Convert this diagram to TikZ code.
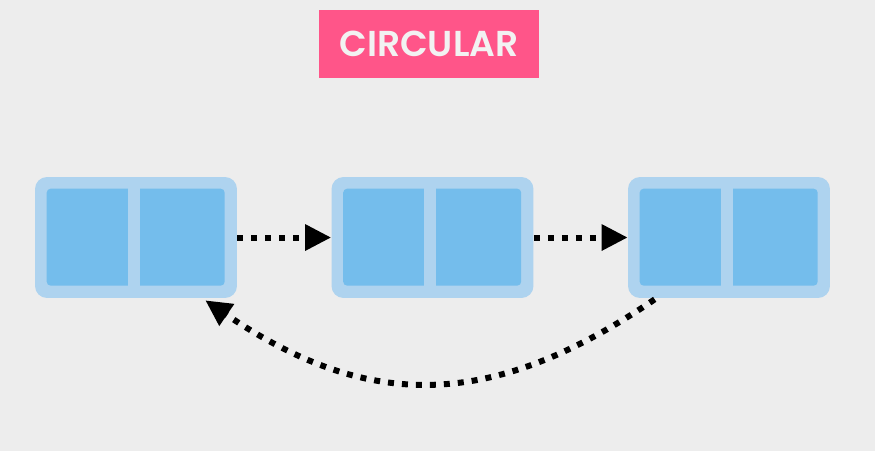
\documentclass[tikz,border=0pt]{standalone}
\usepackage{fontspec}
\newfontfamily\titlefont{Poppins}[BoldFont={* SemiBold}]
\usetikzlibrary{arrows.meta,calc}
\definecolor{bg}{HTML}{EDEDED}
\definecolor{outerblue}{HTML}{AED3EF}
\definecolor{innerblue}{HTML}{74BDEC}
\definecolor{pinkbox}{HTML}{FF5589}
\definecolor{titletext}{HTML}{F2F2F2}
\tikzset{
  listnode/.style={fill=outerblue, draw=none, rounded corners=0.24cm, minimum width=4.04cm, minimum height=2.42cm, inner sep=0pt},
  innerpart/.style={fill=innerblue, rounded corners=0.08cm},
  divider/.style={fill=outerblue},
  dotarrow/.style={line width=0.12cm, dash pattern=on 0.12cm off 0.16cm, -{Triangle[length=0.52cm, width=0.5cm]}},
  titlebox/.style={fill=pinkbox, minimum width=4.4cm, minimum height=1.36cm, inner sep=0pt, text=titletext, font=\titlefont\bfseries\fontsize{20.5pt}{21pt}\selectfont}
}
\begin{document}
\begin{tikzpicture}[x=0.02cm, y=-0.02cm]
\fill[bg] (0,0) rectangle (875,451);
\useasboundingbox (0,0) rectangle (875,451);
\node[titlebox] (title) at (429,44) {CIRCULAR};
\node[listnode] (n1) at (136,237.5) {};
\node[listnode] (n2) at (432.5,237.5) {};
\node[listnode] (n3) at (729,237.5) {};
\foreach \n in {n1,n2,n3}{
  \fill[innerpart] ($(\n.north west)+(12,12)$) rectangle ($(\n.north west)+(190,109)$);
  \fill[divider] ($(\n.north west)+(93,11)$) rectangle ($(\n.north west)+(105,110)$);
}
\draw[dotarrow] (n1.east) -- (n2.west);
\draw[dotarrow] (n2.east) -- (n3.west);
\coordinate (cs) at ($(n3.south west)+(27,1)$);
\coordinate (ce) at ($(n1.south east)+(-32,2)$);
\draw[dotarrow] (cs) .. controls ($(cs)+(-163,111)$) and ($(ce)+(163,111)$) .. (ce);
\end{tikzpicture}
\end{document}
